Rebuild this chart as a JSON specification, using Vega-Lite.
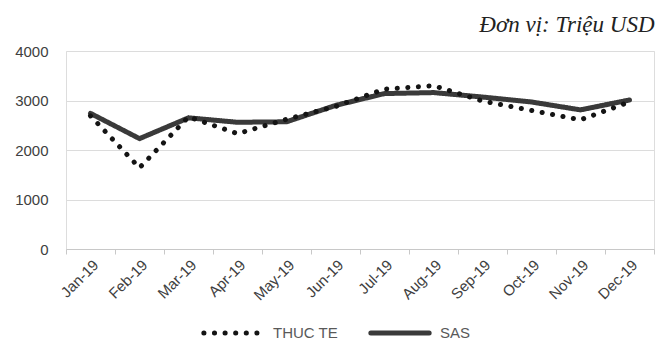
{
  "$schema": "https://vega.github.io/schema/vega-lite/v6.json",
  "width": 588,
  "height": 198,
  "autosize": {"type": "none"},
  "padding": {"left": 66, "top": 51, "right": 7, "bottom": 93},
  "background": "white",
  "title": {
    "text": "Đơn vị: Triệu USD",
    "anchor": "end",
    "font": "Liberation Serif",
    "fontStyle": "italic",
    "fontWeight": "normal",
    "fontSize": 23,
    "color": "#222222",
    "offset": 7
  },
  "data": {
    "values": [
      {"m": "Jan-19", "s": "THUC TE", "v": 2690},
      {"m": "Feb-19", "s": "THUC TE", "v": 1640},
      {"m": "Mar-19", "s": "THUC TE", "v": 2670},
      {"m": "Apr-19", "s": "THUC TE", "v": 2330},
      {"m": "May-19", "s": "THUC TE", "v": 2620},
      {"m": "Jun-19", "s": "THUC TE", "v": 2880},
      {"m": "Jul-19", "s": "THUC TE", "v": 3230},
      {"m": "Aug-19", "s": "THUC TE", "v": 3300},
      {"m": "Sep-19", "s": "THUC TE", "v": 2990},
      {"m": "Oct-19", "s": "THUC TE", "v": 2800},
      {"m": "Nov-19", "s": "THUC TE", "v": 2610},
      {"m": "Dec-19", "s": "THUC TE", "v": 2970},
      {"m": "Jan-19", "s": "SAS", "v": 2740},
      {"m": "Feb-19", "s": "SAS", "v": 2230},
      {"m": "Mar-19", "s": "SAS", "v": 2650},
      {"m": "Apr-19", "s": "SAS", "v": 2560},
      {"m": "May-19", "s": "SAS", "v": 2570},
      {"m": "Jun-19", "s": "SAS", "v": 2900},
      {"m": "Jul-19", "s": "SAS", "v": 3140},
      {"m": "Aug-19", "s": "SAS", "v": 3160},
      {"m": "Sep-19", "s": "SAS", "v": 3070},
      {"m": "Oct-19", "s": "SAS", "v": 2970},
      {"m": "Nov-19", "s": "SAS", "v": 2810},
      {"m": "Dec-19", "s": "SAS", "v": 3010}
    ]
  },
  "encoding": {
    "x": {
      "field": "m",
      "type": "ordinal",
      "scale": {
        "type": "band",
        "paddingInner": 0,
        "paddingOuter": 0,
        "domain": ["Jan-19", "Feb-19", "Mar-19", "Apr-19", "May-19", "Jun-19", "Jul-19", "Aug-19", "Sep-19", "Oct-19", "Nov-19", "Dec-19"]
      },
      "axis": {
        "title": null,
        "labelAngle": -45,
        "tickBand": "extent",
        "grid": false,
        "domainColor": "#c8c8c8",
        "tickColor": "#c8c8c8",
        "tickSize": 5,
        "labelFont": "Liberation Sans",
        "labelFontSize": 15,
        "labelColor": "#404040",
        "labelPadding": 3
      }
    },
    "y": {
      "field": "v",
      "type": "quantitative",
      "scale": {"domain": [0, 4000]},
      "axis": {
        "title": null,
        "values": [0, 1000, 2000, 3000, 4000],
        "format": "d",
        "domain": false,
        "ticks": false,
        "gridColor": "#dcdcdc",
        "labelPadding": 18,
        "labelFont": "Liberation Sans",
        "labelFontSize": 15,
        "labelColor": "#404040"
      }
    },
    "color": {
      "field": "s",
      "type": "nominal",
      "scale": {"domain": ["THUC TE", "SAS"], "range": ["#141414", "#3a3a3a"]},
      "legend": {
        "title": null,
        "orient": "none",
        "direction": "horizontal",
        "legendX": 135,
        "legendY": 250,
        "symbolType": "stroke",
        "symbolSize": 3400,
        "symbolStrokeWidth": 5,
        "labelFont": "Liberation Sans",
        "labelFontSize": 15,
        "labelColor": "#595959",
        "labelOffset": 8,
        "columnPadding": 22,
        "encode": {"symbols": {"update": {"strokeCap": {"value": "round"}}}}
      }
    },
    "strokeDash": {
      "field": "s",
      "type": "nominal",
      "scale": {"domain": ["THUC TE", "SAS"], "range": [[0.1, 10.5], [1, 0]]},
      "legend": null
    }
  },
  "layer": [
    {
      "transform": [{"filter": "datum.s === 'SAS'"}],
      "mark": {"type": "line", "strokeWidth": 5, "strokeCap": "round", "strokeJoin": "round"}
    },
    {
      "transform": [{"filter": "datum.s === 'THUC TE'"}],
      "mark": {"type": "line", "strokeWidth": 5, "strokeCap": "round", "strokeJoin": "round"}
    }
  ]
}
